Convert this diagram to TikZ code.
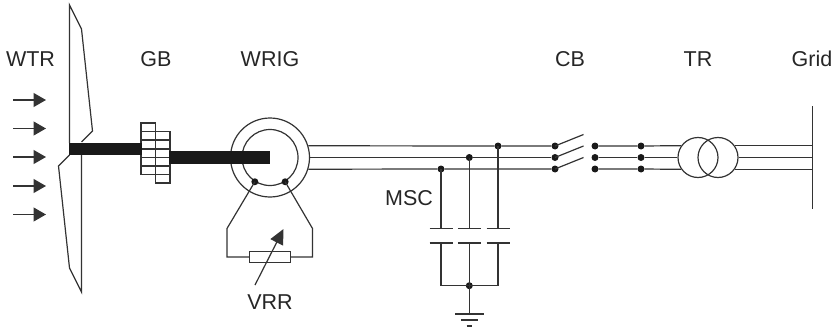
\documentclass[tikz,border=0pt]{standalone}
\usepackage{fontspec}
\setmainfont{Liberation Sans}
\usetikzlibrary{arrows.meta}
\tikzset{
  wire/.style={line width=1.2pt,draw=black!80},
  dot/.style={circle,fill=black!90,inner sep=0pt,minimum size=7pt},
  shaft/.style={fill=black!90,draw=none},
  wind/.style={wire,-{Triangle[length=12.5pt,width=14pt]}},
  ring/.style={wire,circle,inner sep=0pt},
  lab/.style={font=\fontsize{21.5}{24}\selectfont,text=black!85,inner sep=0pt}
}
\begin{document}
\begin{tikzpicture}[x=1pt,y=-1pt]
  \useasboundingbox (0,0) rectangle (833,329);
  % labels
  \node[lab] (wtr) at (30.5,59) {WTR};
  \node[lab] (gb) at (156,59) {GB};
  \node[lab] (wrig) at (270,59) {WRIG};
  \node[lab] (cb) at (570,59) {CB};
  \node[lab] (tr) at (698,59) {TR};
  \node[lab] (grid) at (812,59) {Grid};
  \node[lab] (msc) at (409,198) {MSC};
  \node[lab] (vrr) at (270,302) {VRR};
  % wind
  \coordinate (w1a) at (13,100);
  \coordinate (w1b) at (46,100);
  \coordinate (w2a) at (13,128.5);
  \coordinate (w2b) at (46,128.5);
  \coordinate (w3a) at (13,157);
  \coordinate (w3b) at (46,157);
  \coordinate (w4a) at (13,186);
  \coordinate (w4b) at (46,186);
  \coordinate (w5a) at (13,214.5);
  \coordinate (w5b) at (46,214.5);
  \draw[wind] (w1a) -- (w1b);
  \draw[wind] (w2a) -- (w2b);
  \draw[wind] (w3a) -- (w3b);
  \draw[wind] (w4a) -- (w4b);
  \draw[wind] (w5a) -- (w5b);
  % blades
  \draw[wire] (69.5,143) -- (69.5,5) -- (81.5,29) -- (92.5,131) -- (81.5,142);
  \draw[wire] (69.5,155) -- (58.5,166) -- (69.5,268) -- (81.5,292) -- (81.5,155);
  % gearbox
  \draw[wire] (141,123) rectangle (155.5,174.5);
  \draw[wire] (155.5,131.5) rectangle (170,183);
  \draw[wire] (141,131.5) -- (170,131.5);
  \draw[wire] (141,140) -- (170,140);
  \draw[wire] (141,149) -- (170,149);
  \draw[wire] (141,157.5) -- (170,157.5);
  \draw[wire] (141,166) -- (170,166);
  \draw[wire] (141,174.5) -- (170,174.5);
  % generator
  \node[ring,minimum size=79pt] (genO) at (270,157.5) {};
  \node[ring,minimum size=56pt] (genI) at (270,157.5) {};
  \fill[shaft] (69,142.5) rectangle (142,155);
  \fill[shaft] (169,151) rectangle (270,164);
  % rotor resistor
  \node[dot] (slipL) at (genI.238) {};
  \node[dot] (slipR) at (genI.302) {};
  \node[wire,draw,fill=white,minimum width=40.5pt,minimum height=11.5pt,inner sep=0pt] (rr) at (270,257) {};
  \coordinate (rrL) at (227,228.5);
  \coordinate (rrR) at (312.5,228.5);
  \draw[wire] (slipL.center) -- (rrL) |- (rr.west);
  \draw[wire] (slipR.center) -- (rrR) |- (rr.east);
  \coordinate (rrA) at (255,285);
  \coordinate (rrB) at (283.5,229);
  \draw[wire,-{Triangle[length=15pt,width=14pt]}] (rrA) -- (rrB);
  % phases
  \node[dot] (cbA) at (555,146) {};
  \node[dot] (cbB) at (555,157.5) {};
  \node[dot] (cbC) at (555,169) {};
  \node[dot] (capA) at (498,146) {};
  \node[dot] (capB) at (469.3,157.5) {};
  \node[dot] (capC) at (441,169) {};
  \draw[wire] (genO.17) -- (capA) -- (cbA);
  \draw[wire] (genO.east) -- (capB) -- (cbB);
  \draw[wire] (genO.-17) -- (capC) -- (cbC);
  % switch
  \coordinate (swA) at (583.5,134.5);
  \coordinate (swB) at (583.5,146);
  \coordinate (swC) at (583.5,157.5);
  \draw[wire] (cbA.center) -- (swA);
  \draw[wire] (cbB.center) -- (swB);
  \draw[wire] (cbC.center) -- (swC);
  \node[dot] (inA) at (595,146) {};
  \node[dot] (inB) at (595,157.5) {};
  \node[dot] (inC) at (595,169) {};
  \node[dot] (midA) at (641,146) {};
  \node[dot] (midB) at (641,157.5) {};
  \node[dot] (midC) at (641,169) {};
  % transformer
  \node[ring,minimum size=40pt] (trL) at (698,157.5) {};
  \node[ring,minimum size=40pt] (trR) at (718,157.5) {};
  \draw[wire] (inA) -- (midA) -- (trL.145);
  \draw[wire] (inB) -- (midB) -- (trL.west);
  \draw[wire] (inC) -- (midC) -- (trL.215);
  % bus
  \coordinate (busT) at (812.3,106);
  \coordinate (busB) at (812.3,208.5);
  \draw[wire] (busT) -- (busB);
  \draw[wire] (trR.35) -- (trR.35 -| busT);
  \draw[wire] (trR.east) -- (trR.east -| busT);
  \draw[wire] (trR.-35) -- (trR.-35 -| busT);
  % capacitors
  \coordinate (c1t) at (441,228.7);
  \coordinate (c2t) at (469.3,228.7);
  \coordinate (c3t) at (498,228.7);
  \coordinate (c1b) at (441,243);
  \coordinate (c2b) at (469.3,243);
  \coordinate (c3b) at (498,243);
  \draw[wire] (capC.center) -- (c1t);
  \draw[wire] (capB.center) -- (c2t);
  \draw[wire] (capA.center) -- (c3t);
  \draw[wire] ([xshift=-11.5pt]c1t) -- ([xshift=11.5pt]c1t);
  \draw[wire] ([xshift=-11.5pt]c2t) -- ([xshift=11.5pt]c2t);
  \draw[wire] ([xshift=-11.5pt]c3t) -- ([xshift=11.5pt]c3t);
  \draw[wire] ([xshift=-11.5pt]c1b) -- ([xshift=11.5pt]c1b);
  \draw[wire] ([xshift=-11.5pt]c2b) -- ([xshift=11.5pt]c2b);
  \draw[wire] ([xshift=-11.5pt]c3b) -- ([xshift=11.5pt]c3b);
  \node[dot] (star) at (469.3,285.7) {};
  \draw[wire] (c1b) |- (star.center);
  \draw[wire] (c2b) -- (star.center);
  \draw[wire] (c3b) |- (star.center);
  % earth
  \coordinate (gnd) at (469.3,314);
  \draw[wire] (star.center) -- (gnd);
  \draw[wire] ([xshift=-14.2pt]gnd) -- ([xshift=14.2pt]gnd);
  \draw[wire] (461,320) -- (477.6,320);
  \draw[wire] (466.7,326) -- (472,326);
\end{tikzpicture}
\end{document}
